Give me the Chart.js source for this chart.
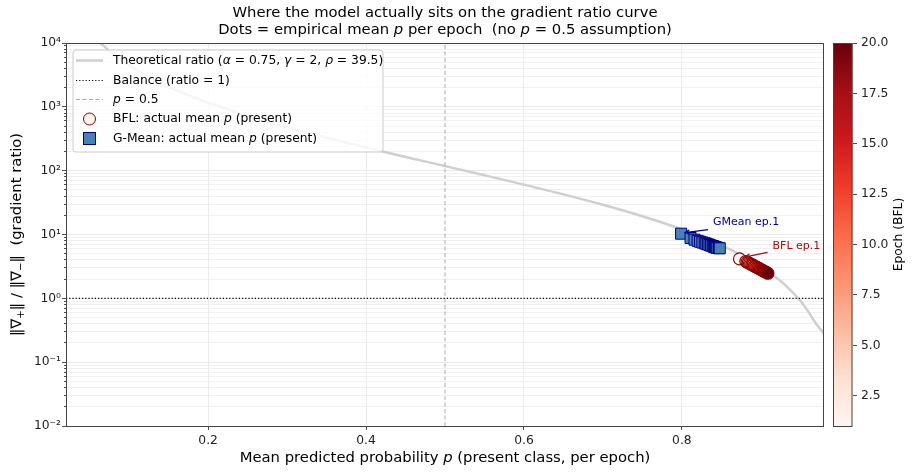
<!DOCTYPE html>
<html>
<head>
<meta charset="utf-8">
<script src="https://cdn.jsdelivr.net/npm/chart.js@4.4.1/dist/chart.umd.min.js"></script>
<style>
  html, body { margin: 0; padding: 0; background: #fff; }
  #wrap { width: 912px; height: 473px; position: relative; }
</style>
</head>
<body>
<div id="wrap"><canvas id="ratioChart"></canvas></div>
<script>
// Curva teórica
const theoryP = [0.06, 0.08, 0.10, 0.13, 0.16, 0.20, 0.25, 0.30, 0.35, 0.40, 0.45, 0.50, 0.55, 0.60, 0.65, 0.70, 0.75, 0.80, 0.85, 0.88, 0.91, 0.93, 0.95, 0.96, 0.97, 0.98];
const theoryRatio = [11000, 6640, 4430, 2720, 1820, 1160, 723, 478, 328, 230, 164, 118, 84.7, 60.4, 42.5, 29.2, 19.3, 12.0, 6.74, 4.41, 2.59, 1.65, 0.917, 0.623, 0.40, 0.28];

// Pontos empíricos por época
const epochs = [1, 2, 3, 4, 5, 6, 7, 8, 9, 10, 11, 12, 13, 14, 15, 16, 17, 18, 19, 20];
const gmeanP = [0.799, 0.811, 0.816, 0.820, 0.823, 0.826, 0.829, 0.831, 0.833, 0.835, 0.837, 0.839, 0.840, 0.841, 0.842, 0.843, 0.844, 0.845, 0.847, 0.848];
const gmeanRatio = [10.3, 8.8, 8.3, 7.95, 7.7, 7.5, 7.3, 7.15, 7.0, 6.85, 6.7, 6.6, 6.5, 6.42, 6.35, 6.28, 6.22, 6.17, 6.12, 6.08];
const bflP = [0.873, 0.881, 0.8826, 0.8841, 0.8857, 0.8872, 0.8888, 0.8903, 0.8919, 0.8934, 0.895, 0.8965, 0.8981, 0.8996, 0.9012, 0.9027, 0.9043, 0.9058, 0.9074, 0.909];
const bflRatio = [4.15, 3.78, 3.69, 3.61, 3.52, 3.44, 3.36, 3.28, 3.20, 3.13, 3.06, 2.99, 2.92, 2.85, 2.78, 2.72, 2.65, 2.59, 2.53, 2.47];

// Linhas de referência e ticks
const balanceRatio = 1;
const halfP = 0.5;
const xRange = [0.02, 0.98];
const yRange = [0.01, 10000];
const xTicks = [0.2, 0.4, 0.6, 0.8];
const cbTicks = [2.5, 5.0, 7.5, 10.0, 12.5, 15.0, 17.5, 20.0];
const epochRange = [1, 20];

const FONT = "'DejaVu Sans', 'Liberation Sans', sans-serif";
const REDS = ['#fff5f0', '#fee0d2', '#fcbba1', '#fc9272', '#fb6a4a', '#ef3b2c', '#cb181d', '#a50f15', '#67000d'];

// Funções auxiliares
function hexToRgb(h) {
    return [parseInt(h.slice(1, 3), 16), parseInt(h.slice(3, 5), 16), parseInt(h.slice(5, 7), 16)];
}

function reds(t) {
    t = Math.max(0, Math.min(1, t));
    const pos = t * (REDS.length - 1);
    const i = Math.min(Math.floor(pos), REDS.length - 2);
    const f = pos - i;
    const a = hexToRgb(REDS[i]), b = hexToRgb(REDS[i + 1]);
    const c = a.map((v, k) => Math.round(v + (b[k] - v) * f));
    return `rgb(${c[0]},${c[1]},${c[2]})`;
}

function isDecade(v) {
    const l = Math.log10(v);
    return Math.abs(l - Math.round(l)) < 1e-9;
}

function supLabel(v) {
    const map = { '-': '⁻', '0': '⁰', '1': '¹', '2': '²', '3': '³', '4': '⁴', '5': '⁵' };
    const e = String(Math.round(Math.log10(v)));
    return '10' + e.split('').map(c => map[c]).join('');
}

function drawRich(ctx, parts, x, y, size, align, color) {
    const fontFor = st => (st === 'i' ? 'italic ' : '') + (st === 'sub' ? size * 0.7 : size) + 'px ' + FONT;
    let total = 0;
    parts.forEach(([t, st]) => { ctx.font = fontFor(st); total += ctx.measureText(t).width; });
    let cx = align === 'center' ? x - total / 2 : (align === 'right' ? x - total : x);
    ctx.fillStyle = color || '#000';
    ctx.textAlign = 'left';
    ctx.textBaseline = 'middle';
    parts.forEach(([t, st]) => {
        ctx.font = fontFor(st);
        ctx.fillText(t, cx, st === 'sub' ? y + size * 0.3 : y);
        cx += ctx.measureText(t).width;
    });
}

function arrow(ctx, x1, y1, x2, y2, color) {
    ctx.save();
    ctx.strokeStyle = color;
    ctx.lineWidth = 1.2;
    ctx.beginPath();
    ctx.moveTo(x1, y1);
    ctx.lineTo(x2, y2);
    const ang = Math.atan2(y2 - y1, x2 - x1);
    const L = 5;
    ctx.moveTo(x2 - L * Math.cos(ang - 0.45), y2 - L * Math.sin(ang - 0.45));
    ctx.lineTo(x2, y2);
    ctx.lineTo(x2 - L * Math.cos(ang + 0.45), y2 - L * Math.sin(ang + 0.45));
    ctx.stroke();
    ctx.restore();
}

// Legenda, anotações, moldura, colorbar e textos
const decorPlugin = {
    id: 'decor',
    afterDraw(chart) {
        const ctx = chart.ctx;
        const ca = chart.chartArea;
        const sx = chart.scales.x, sy = chart.scales.y, cb = chart.scales.cb;

        // legenda
        ctx.save();
        const lx = ca.left + 7, ly = ca.top + 7, lw = 310, lh = 102;
        ctx.beginPath();
        ctx.roundRect(lx, ly, lw, lh, 3);
        ctx.fillStyle = 'rgba(255,255,255,0.8)';
        ctx.fill();
        ctx.strokeStyle = '#cccccc';
        ctx.lineWidth = 1;
        ctx.stroke();

        const rows = [10.5, 30.5, 49.5, 69, 88.5].map(r => ly + r);
        const hx1 = lx + 3, hx2 = lx + 30, hc = lx + 16.5, tx = lx + 40;
        ctx.lineWidth = 2.5; ctx.strokeStyle = '#cfcfcf'; ctx.setLineDash([]);
        ctx.beginPath(); ctx.moveTo(hx1, rows[0]); ctx.lineTo(hx2, rows[0]); ctx.stroke();
        ctx.lineWidth = 1.2; ctx.strokeStyle = '#000'; ctx.setLineDash([1.2, 2]);
        ctx.beginPath(); ctx.moveTo(hx1, rows[1]); ctx.lineTo(hx2, rows[1]); ctx.stroke();
        ctx.lineWidth = 1; ctx.strokeStyle = '#aaaaaa'; ctx.setLineDash([4, 2.5]);
        ctx.beginPath(); ctx.moveTo(hx1, rows[2]); ctx.lineTo(hx2, rows[2]); ctx.stroke();
        ctx.setLineDash([]);
        ctx.beginPath(); ctx.arc(hc, rows[3], 6, 0, Math.PI * 2);
        ctx.fillStyle = reds(0.02); ctx.fill();
        ctx.strokeStyle = '#8b0000'; ctx.lineWidth = 1; ctx.stroke();
        ctx.fillStyle = '#4682b4'; ctx.strokeStyle = '#000080';
        ctx.fillRect(hc - 6, rows[4] - 6, 12, 12);
        ctx.strokeRect(hc - 6, rows[4] - 6, 12, 12);

        const lf = 12.3;
        drawRich(ctx, [['Theoretical ratio (', ''], ['α', 'i'], [' = 0.75, ', ''], ['γ', 'i'], [' = 2, ', ''], ['ρ', 'i'], [' = 39.5)', '']], tx, rows[0], lf, 'left');
        drawRich(ctx, [['Balance (ratio = 1)', '']], tx, rows[1], lf, 'left');
        drawRich(ctx, [['p', 'i'], [' = 0.5', '']], tx, rows[2], lf, 'left');
        drawRich(ctx, [['BFL: actual mean ', ''], ['p', 'i'], [' (present)', '']], tx, rows[3], lf, 'left');
        drawRich(ctx, [['G-Mean: actual mean ', ''], ['p', 'i'], [' (present)', '']], tx, rows[4], lf, 'left');

        // anotações
        const gx = sx.getPixelForValue(gmeanP[0]), gy = sy.getPixelForValue(gmeanRatio[0]);
        arrow(ctx, gx + 27, gy - 4, gx + 4, gy - 1, '#00008b');
        drawRich(ctx, [['GMean ep.1', '']], gx + 32, gy - 12, 11, 'left', '#00008b');
        const bx = sx.getPixelForValue(bflP[0]), by = sy.getPixelForValue(bflRatio[0]);
        arrow(ctx, bx + 28, by - 6.5, bx + 6, by - 2, '#a01010');
        drawRich(ctx, [['BFL ep.1', '']], bx + 33, by - 13, 11, 'left', '#a01010');

        // moldura
        ctx.strokeStyle = '#444';
        ctx.lineWidth = 1;
        ctx.strokeRect(ca.left + 0.5, ca.top + 0.5, ca.right - ca.left - 1, ca.bottom - ca.top);

        // colorbar
        const cTop = cb.getPixelForValue(epochRange[1]), cBot = cb.getPixelForValue(epochRange[0]);
        const cx1 = ca.right + 9, cw = 19.5;
        const grad = ctx.createLinearGradient(0, cBot, 0, cTop);
        REDS.forEach((c, i) => grad.addColorStop(i / (REDS.length - 1), c));
        ctx.fillStyle = grad;
        ctx.fillRect(cx1, cTop, cw, cBot - cTop);
        ctx.strokeStyle = '#444';
        ctx.strokeRect(cx1 + 0.5, cTop + 0.5, cw - 1, cBot - cTop);

        // títulos e rótulos
        const mid = (ca.left + ca.right) / 2;
        drawRich(ctx, [['Where the model actually sits on the gradient ratio curve', '']], mid, 13.5, 14.8, 'center');
        drawRich(ctx, [['Dots = empirical mean ', ''], ['p', 'i'], [' per epoch  (no ', ''], ['p', 'i'], [' = 0.5 assumption)', '']], mid, 30.5, 14.8, 'center');
        drawRich(ctx, [['Mean predicted probability ', ''], ['p', 'i'], [' (present class, per epoch)', '']], mid, 458.5, 14.8, 'center');

        const midY = (ca.top + ca.bottom) / 2;
        ctx.translate(17, midY);
        ctx.rotate(-Math.PI / 2);
        drawRich(ctx, [['‖∇', ''], ['+', 'sub'], ['‖ / ‖∇', ''], ['−', 'sub'], ['‖  (gradient ratio)', '']], 0, 0, 14.8, 'center');
        ctx.setTransform(1, 0, 0, 1, 0, 0);
        ctx.translate(899, midY);
        ctx.rotate(-Math.PI / 2);
        drawRich(ctx, [['Epoch (BFL)', '']], 0, 0, 12.3, 'center');
        ctx.restore();
    }
};

const tickFont = { family: FONT, size: 12.3 };

function buildLogTicks() {
    const out = [];
    for (let e = -2; e <= 4; e++) {
        for (let m = 1; m <= 9; m++) {
            const v = m * Math.pow(10, e);
            if (v <= yRange[1] * 1.0001) out.push({ value: v });
        }
    }
    return out;
}

const ctxChart = document.getElementById('ratioChart').getContext('2d');
window.ratioChart = new Chart(ctxChart, {
    type: 'scatter',
    data: {
        datasets: [
            {
                label: 'BFL: actual mean p (present)',
                data: bflP.map((p, i) => ({ x: p, y: bflRatio[i] })),
                pointStyle: 'circle',
                pointRadius: 6,
                pointBackgroundColor: epochs.map(e => reds((e - epochRange[0]) / (epochRange[1] - epochRange[0]))),
                pointBorderColor: '#8b0000',
                pointBorderWidth: 1.1,
                order: 0
            },
            {
                label: 'G-Mean: actual mean p (present)',
                data: gmeanP.map((p, i) => ({ x: p, y: gmeanRatio[i] })),
                pointStyle: 'rect',
                pointRadius: 7.8,
                pointBackgroundColor: '#4682b4',
                pointBorderColor: '#000080',
                pointBorderWidth: 1,
                order: 1
            },
            {
                label: 'Balance (ratio = 1)',
                data: [{ x: xRange[0], y: balanceRatio }, { x: xRange[1], y: balanceRatio }],
                showLine: true,
                borderColor: '#000',
                borderWidth: 1.2,
                borderDash: [1.2, 2],
                pointRadius: 0,
                order: 2
            },
            {
                label: 'p = 0.5',
                data: [{ x: halfP, y: yRange[0] }, { x: halfP, y: yRange[1] }],
                showLine: true,
                borderColor: '#aaaaaa',
                borderWidth: 1,
                borderDash: [4, 2.5],
                pointRadius: 0,
                order: 3
            },
            {
                label: 'Theoretical ratio',
                data: theoryP.map((p, i) => ({ x: p, y: theoryRatio[i] })),
                showLine: true,
                borderColor: '#cfcfcf',
                borderWidth: 2.5,
                pointRadius: 0,
                cubicInterpolationMode: 'monotone',
                clip: 0,
                order: 4
            }
        ]
    },
    options: {
        responsive: true,
        maintainAspectRatio: false,
        animation: false,
        events: [],
        layout: { padding: { top: 43, right: 0, bottom: 0, left: 0 } },
        plugins: {
            legend: { display: false },
            tooltip: { enabled: false },
            title: { display: false }
        },
        scales: {
            x: {
                type: 'linear',
                min: xRange[0],
                max: xRange[1],
                afterBuildTicks: s => { s.ticks = xTicks.map(v => ({ value: v })); },
                afterFit: s => { s.height = 47; },
                ticks: { font: tickFont, color: '#222', padding: 3, maxRotation: 0, callback: v => v.toFixed(1) },
                grid: { color: '#e6e6e6', lineWidth: 0.8, tickColor: '#222', tickLength: 4, tickWidth: 0.8 },
                border: { display: false }
            },
            y: {
                type: 'logarithmic',
                min: yRange[0],
                max: yRange[1],
                afterBuildTicks: s => { s.ticks = buildLogTicks(); },
                afterFit: s => { s.width = 66; },
                ticks: {
                    font: tickFont, color: '#222', padding: 1, autoSkip: false,
                    callback: v => isDecade(v) ? supLabel(v) : ''
                },
                grid: {
                    color: c => c.tick && isDecade(c.tick.value) ? '#e2e2e2' : '#eeeeee',
                    lineWidth: 0.8,
                    tickColor: '#222',
                    tickLength: 4,
                    tickWidth: 0.8,
                    tickBorderDash: c => c.tick && isDecade(c.tick.value) ? [] : [0, 2, 2, 20]
                },
                border: { display: false }
            },
            cb: {
                type: 'linear',
                position: 'right',
                min: epochRange[0],
                max: epochRange[1],
                afterBuildTicks: s => { s.ticks = cbTicks.map(v => ({ value: v })); },
                afterFit: s => { s.width = 88; },
                ticks: { font: tickFont, color: '#222', padding: 4, callback: v => v.toFixed(1) },
                grid: { drawOnChartArea: false, tickLength: 33, tickColor: '#222', tickWidth: 0.8, tickBorderDash: [0, 29, 4, 100] },
                border: { display: false }
            }
        }
    },
    plugins: [decorPlugin]
});
</script>
</body>
</html>
